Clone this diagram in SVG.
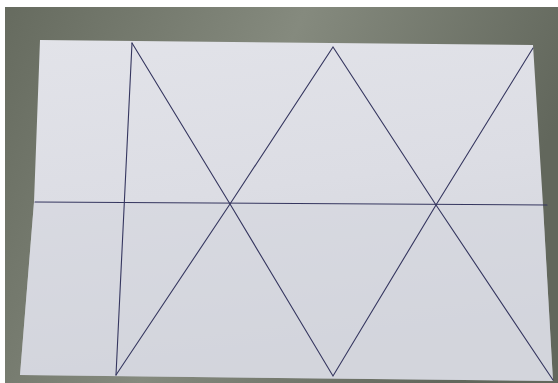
<svg xmlns="http://www.w3.org/2000/svg" width="558" height="383" viewBox="0 0 558 383">
  <defs>
    <linearGradient id="bg" x1="0" y1="0" x2="1" y2="0.3">
      <stop offset="0" stop-color="#666b5f"/>
      <stop offset="0.5" stop-color="#858a7e"/>
      <stop offset="1" stop-color="#62675c"/>
    </linearGradient>
    <linearGradient id="paper" x1="0" y1="0" x2="0.2" y2="1">
      <stop offset="0" stop-color="#e2e3e9"/>
      <stop offset="0.5" stop-color="#dcdde4"/>
      <stop offset="1" stop-color="#d2d4db"/>
    </linearGradient>
    <style>
      .ln { stroke: #35365f; stroke-width: 1.1; fill: none; stroke-linecap: round; }
    </style>
  </defs>
  <rect x="0" y="0" width="558" height="383" fill="#ffffff"/>
  <rect x="5" y="7" width="553" height="376" fill="url(#bg)"/>
  <polygon points="40,40 533,45 543,205 553,381 20,375 34,202" fill="url(#paper)"/>
  <polygon points="34,202 543,206 553,381 20,375" fill="#d4d6dd" opacity="0.5"/>
  <g id="lines">
    <line class="ln" x1="132" y1="43" x2="116" y2="375"/>
    <line class="ln" x1="35" y1="202" x2="547" y2="205"/>
    <polyline class="ln" points="132,43 230,204 333,47 436,205 533,48"/>
    <polyline class="ln" points="116,375 230,204 333,376 436,205 553,380"/>
  </g>
</svg>
